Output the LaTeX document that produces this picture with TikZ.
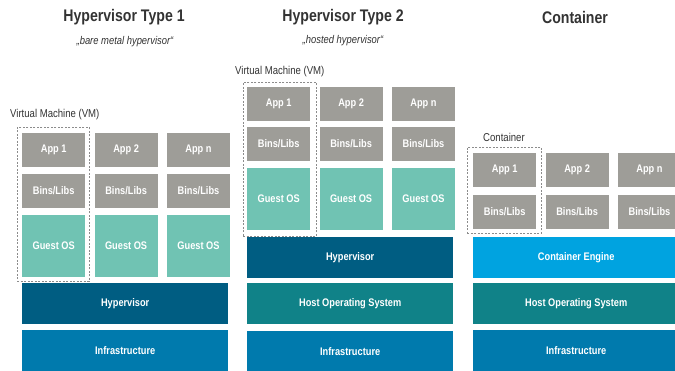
\documentclass[tikz,border=0pt]{standalone}
\usepackage{fontspec}
\setmainfont{Liberation Sans}[FakeStretch=0.84]
\usepackage{tikz}
\usetikzlibrary{positioning}
\definecolor{appgray}{RGB}{158,157,152}
\definecolor{guestteal}{RGB}{112,195,179}
\definecolor{hypblue}{RGB}{0,93,130}
\definecolor{hostteal}{RGB}{16,130,136}
\definecolor{infrablue}{RGB}{0,122,173}
\definecolor{engineblue}{RGB}{0,163,224}
\definecolor{textgray}{RGB}{51,51,51}
\tikzstyle{block} = [rectangle, anchor=north west, inner sep=0pt, text=white, text centered, font=\fontsize{11}{13}\selectfont\bfseries]
\tikzstyle{app} = [block, fill=appgray, minimum width=63pt, minimum height=34pt]
\tikzstyle{guest} = [block, fill=guestteal, minimum width=63pt, minimum height=62pt]
\tikzstyle{layer} = [block, minimum width=206pt, minimum height=41pt]
\tikzstyle{vmframe} = [rectangle, anchor=north west, inner sep=0pt, draw=black!45, line width=0.7pt, dash pattern=on 2pt off 1.5pt]
\tikzstyle{title} = [text=textgray, font=\fontsize{16.8}{19}\selectfont\bfseries]
\tikzstyle{subtitle} = [text=textgray, font=\fontsize{11.2}{13}\selectfont\itshape]
\tikzstyle{caption} = [anchor=west, inner sep=0pt, text=textgray, font=\fontsize{11.4}{13}\selectfont]

\begin{document}
\begin{tikzpicture}[x=1pt, y=-1pt]
\useasboundingbox (0,0) rectangle (675,370);
\clip (0,0) rectangle (675,370);
% headings
\node(title1)[title] at (124,17) {Hypervisor Type 1};
\node(sub1)[subtitle] at (125,42) {„bare metal hypervisor“};
\node(title2)[title] at (343,17) {Hypervisor Type 2};
\node(sub2)[subtitle] at (343,41) {„hosted hypervisor“};
\node(title3)[title] at (575,17) {Container};

% hypervisor type 1
\node(vmlabel1)[caption] at (10,115) {Virtual Machine (VM)};
\node(vm1)[vmframe, minimum width=72pt, minimum height=154pt] at (17,127) {};
\node(app1a)[app] at (22,133) {App 1};
\node(app2a)[app, right=9pt of app1a] {App 2};
\node(appna)[app, right=9pt of app2a] {App n};
\node(bins1a)[app, below=6pt of app1a] {Bins/Libs};
\node(bins2a)[app, below=6pt of app2a] {Bins/Libs};
\node(binsna)[app, below=6pt of appna] {Bins/Libs};
\node(guest1a)[guest, below=7pt of bins1a] {Guest OS};
\node(guest2a)[guest, below=7pt of bins2a] {Guest OS};
\node(guestna)[guest, below=7pt of binsna] {Guest OS};
\node(hyp1)[layer, fill=hypblue] at (22,283) {Hypervisor};
\node(infra1)[layer, fill=infrablue] at (22,330) {Infrastructure};

% hypervisor type 2
\node(vmlabel2)[caption] at (235,72) {Virtual Machine (VM)};
\node(vm2)[vmframe, minimum width=73pt, minimum height=154pt] at (243,82) {};
\node(app1b)[app] at (247,87) {App 1};
\node(app2b)[app, right=9pt of app1b] {App 2};
\node(appnb)[app, right=9pt of app2b] {App n};
\node(bins1b)[app, below=5pt of app1b] {Bins/Libs};
\node(bins2b)[app, below=5pt of app2b] {Bins/Libs};
\node(binsnb)[app, below=5pt of appnb] {Bins/Libs};
\node(guest1b)[guest, below=7pt of bins1b] {Guest OS};
\node(guest2b)[guest, below=7pt of bins2b] {Guest OS};
\node(guestnb)[guest, below=7pt of binsnb] {Guest OS};
\node(hyp2)[layer, fill=hypblue] at (247,237) {Hypervisor};
\node(host2)[layer, fill=hostteal] at (247,283) {Host Operating System};
\node(infra2)[layer, fill=infrablue] at (247,331) {Infrastructure};

% container
\node(ctlabel)[caption] at (483,137) {Container};
\node(ct1)[vmframe, minimum width=74pt, minimum height=86pt] at (467,147) {};
\node(app1c)[app] at (473,153) {App 1};
\node(app2c)[app, right=9pt of app1c] {App 2};
\node(appnc)[app, right=9pt of app2c] {App n};
\node(bins1c)[app, below=7pt of app1c] {Bins/Libs};
\node(bins2c)[app, below=7pt of app2c] {Bins/Libs};
\node(binsnc)[app, below=7pt of appnc] {Bins/Libs};
\node(engine3)[layer, fill=engineblue] at (473,237) {Container Engine};
\node(host3)[layer, fill=hostteal] at (473,283) {Host Operating System};
\node(infra3)[layer, fill=infrablue] at (473,330) {Infrastructure};
\end{tikzpicture}
\end{document}
